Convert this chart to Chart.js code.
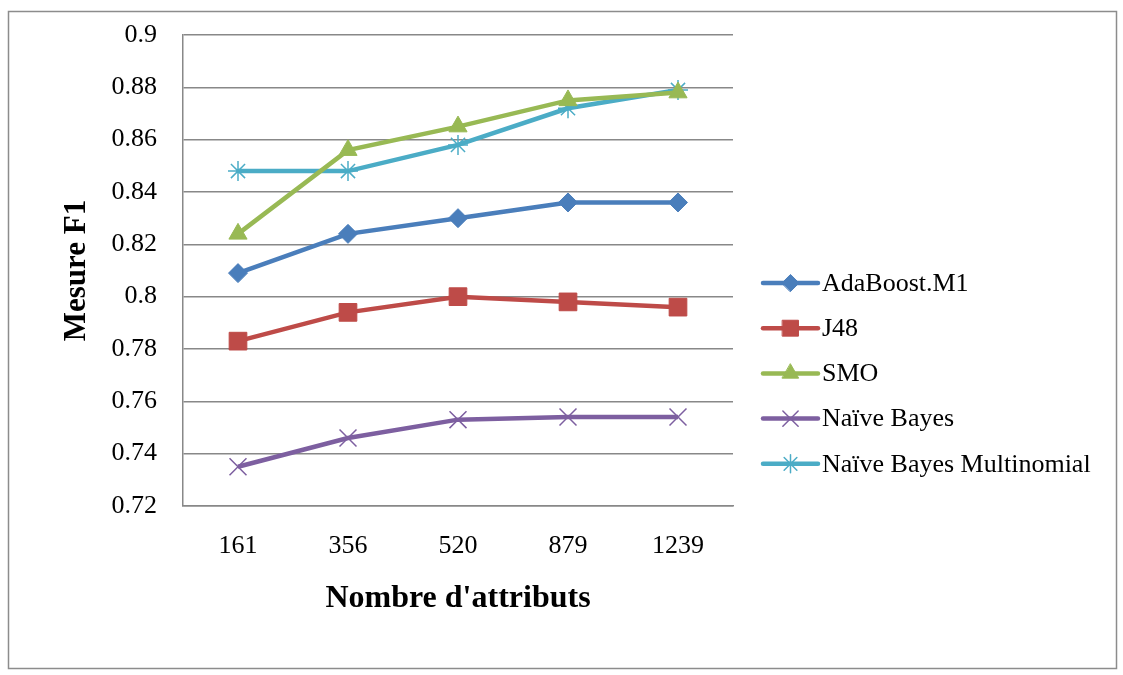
<!DOCTYPE html>
<html>
<head>
<meta charset="utf-8">
<script src="https://cdn.jsdelivr.net/npm/chart.js@4/dist/chart.umd.min.js"></script>
<style>
  html, body { margin: 0; padding: 0; background: #fff; }
  #wrap { width: 1123px; height: 675px; position: relative; }
</style>
</head>
<body>
<div id="wrap"><canvas id="f1-chart"></canvas></div>
<script>
// Number of attributes kept after selection
const attributes = ['161', '356', '520', '879', '1239'];

// F1 score per classifier
const adaBoost = [0.809, 0.824, 0.830, 0.836, 0.836];
const j48 = [0.783, 0.794, 0.800, 0.798, 0.796];
const smo = [0.824, 0.856, 0.865, 0.875, 0.878];
const naiveBayes = [0.735, 0.746, 0.753, 0.754, 0.754];
const naiveBayesMulti = [0.848, 0.848, 0.858, 0.872, 0.879];

const seriesNames = ['AdaBoost.M1', 'J48', 'SMO', 'Naïve Bayes', 'Naïve Bayes Multinomial'];

const FONT = "'Liberation Serif', 'Times New Roman', serif";
const GRID = '#888888';

function series(label, data, color, style, radius, width) {
    return {
        label: label,
        data: data,
        borderColor: color,
        backgroundColor: color,
        borderWidth: 4.5,
        pointStyle: style,
        pointRadius: radius,
        pointHoverRadius: radius,
        pointBorderWidth: width,
        pointBackgroundColor: color,
        pointBorderColor: color,
        tension: 0
    };
}

// legend on the right: line + marker, like the office chart
const sideLegend = {
    id: 'sideLegend',
    afterDraw(chart) {
        const ctx = chart.ctx;
        const x0 = 763, x1 = 818, top = 283, gap = 45.2;
        ctx.save();
        chart.data.datasets.forEach((ds, i) => {
            const y = top + i * gap;
            ctx.strokeStyle = ds.borderColor;
            ctx.lineWidth = 4.5;
            ctx.lineCap = 'round';
            ctx.beginPath();
            ctx.moveTo(x0, y);
            ctx.lineTo(x1, y);
            ctx.stroke();
            ctx.fillStyle = ds.borderColor;
            ctx.lineWidth = ds.pointBorderWidth;
            Chart.helpers.drawPoint(ctx, {
                pointStyle: ds.pointStyle,
                radius: ds.pointRadius * 0.9,
                borderWidth: ds.pointBorderWidth,
                rotation: 0
            }, (x0 + x1) / 2, y);
            ctx.fillStyle = '#000';
            ctx.font = '26px ' + FONT;
            ctx.textBaseline = 'middle';
            ctx.textAlign = 'left';
            ctx.fillText(ds.label, 822, y + 1);
        });
        ctx.restore();
    }
};

// outer frame around the whole chart
const frame = {
    id: 'frame',
    afterDraw(chart) {
        const ctx = chart.ctx;
        ctx.save();
        ctx.strokeStyle = '#8c8c8c';
        ctx.lineWidth = 1.5;
        ctx.strokeRect(8.5, 11.5, 1108, 657);
        ctx.restore();
    }
};

new Chart(document.getElementById('f1-chart'), {
    type: 'line',
    data: {
        labels: attributes,
        datasets: [
            series(seriesNames[0], adaBoost, '#4a7ebb', 'rectRot', 9.5, 1),
            series(seriesNames[1], j48, '#be4b48', 'rect', 12.5, 1),
            series(seriesNames[2], smo, '#98b954', 'triangle', 10.5, 1),
            series(seriesNames[3], naiveBayes, '#7d5fa0', 'crossRot', 12, 1.5),
            series(seriesNames[4], naiveBayesMulti, '#4bacc6', 'star', 10, 1.5)
        ]
    },
    options: {
        responsive: true,
        maintainAspectRatio: false,
        animation: false,
        layout: { padding: { top: 35, right: 390, bottom: 0, left: 0 } },
        plugins: {
            legend: { display: false },
            tooltip: { enabled: false }
        },
        scales: {
            x: {
                offset: true,
                grid: { display: false, drawTicks: false },
                border: { display: true, color: GRID, width: 1.5 },
                ticks: { color: '#000', padding: 25, font: { family: FONT, size: 26 } },
                title: {
                    display: true,
                    text: "Nombre d'attributs",
                    color: '#000',
                    padding: { top: 0, bottom: 57 },
                    font: { family: FONT, size: 32, weight: 'bold' }
                },
                afterFit: function(scale) { scale.height = 169; }
            },
            y: {
                min: 0.72,
                max: 0.9,
                grid: { color: GRID, lineWidth: 1.5, drawTicks: false },
                border: { display: true, color: GRID, width: 1.5 },
                ticks: {
                    stepSize: 0.02,
                    color: '#000',
                    padding: 26,
                    font: { family: FONT, size: 26 },
                    callback: function(v) { return String(Number(v.toFixed(2))); }
                },
                title: {
                    display: true,
                    text: 'Mesure F1',
                    color: '#000',
                    padding: { top: 58, bottom: 0 },
                    font: { family: FONT, size: 31, weight: 'bold' }
                },
                afterFit: function(scale) {
                    scale.width = 183;
                    // top label may overhang; the layout padding already covers it
                    scale.paddingTop = 0;
                    scale.paddingBottom = 0;
                }
            }
        }
    },
    plugins: [sideLegend, frame]
});
</script>
</body>
</html>
